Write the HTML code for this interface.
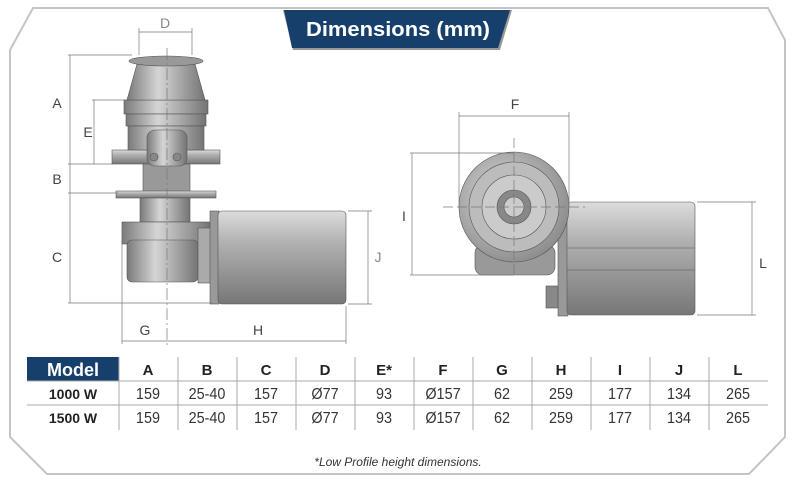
<!DOCTYPE html>
<html><head><meta charset="utf-8"><style>
html,body{margin:0;padding:0;background:#fff;}
svg{display:block;font-family:"Liberation Sans",sans-serif;}
</style></head><body>
<svg width="800" height="494" viewBox="0 0 800 494" xmlns="http://www.w3.org/2000/svg">
<defs>
<linearGradient id="gv" x1="0" y1="0" x2="0" y2="1">
<stop offset="0" stop-color="#dcdcdc"/><stop offset="0.35" stop-color="#b0b0b0"/><stop offset="1" stop-color="#777"/></linearGradient>
<linearGradient id="gh" x1="0" y1="0" x2="1" y2="0">
<stop offset="0" stop-color="#7a7a7a"/><stop offset="0.4" stop-color="#d5d5d5"/><stop offset="1" stop-color="#747474"/></linearGradient>
<radialGradient id="gr" cx="0.4" cy="0.4" r="0.7">
<stop offset="0" stop-color="#d8d8d8"/><stop offset="1" stop-color="#858585"/></radialGradient>
</defs>
<polygon points="33,8 768,8 785,40 785,437 749,474 47,474 10,437 10,50" fill="none" stroke="#c4c4c4" stroke-width="2"/>
<polygon points="283,10 512,10 500,50 293,50" fill="#999"/>
<polygon points="284,10 510,10 498,48 292,48" fill="#173f6b"/>
<text x="398" y="36" fill="#fff" font-size="20" text-anchor="middle" font-weight="bold" textLength="184" lengthAdjust="spacingAndGlyphs">Dimensions (mm)</text>

<g stroke="#555" stroke-width="0.6">
<rect x="112" y="150" width="108" height="14" fill="url(#gv)"/>
<rect x="143" y="164" width="47" height="28" fill="#999"/>
<rect x="116" y="191" width="100" height="7" fill="url(#gv)"/>
<rect x="140" y="198" width="50" height="24" fill="url(#gh)"/>
<rect x="124" y="100" width="84" height="14" fill="url(#gh)"/>
<rect x="126" y="114" width="80" height="12" fill="url(#gh)"/>
<rect x="128" y="126" width="76" height="24" fill="url(#gh)"/>
<rect x="147" y="130" width="40" height="36" rx="8" fill="url(#gh)"/>
<circle cx="154" cy="157" r="4" fill="#888"/><circle cx="177" cy="157" r="4" fill="#888"/>
<path d="M137,64 L195,64 L205,100 L127,100 Z" fill="url(#gh)"/>
<ellipse cx="166" cy="61" rx="37" ry="5" fill="#999"/>
<rect x="122" y="222" width="88" height="22" fill="url(#gh)"/>
<rect x="127" y="240" width="71" height="42" rx="5" fill="url(#gh)"/>
<rect x="198" y="228" width="14" height="55" fill="#aaa"/>
<rect x="210" y="211" width="9" height="93" fill="#999"/>
<rect x="218" y="211" width="128" height="93" rx="4" fill="url(#gv)"/>
</g>
<g stroke="#777" stroke-width="0.7" fill="none">
<line x1="139" y1="32" x2="192" y2="32"/><line x1="139" y1="28" x2="139" y2="55"/><line x1="192" y1="28" x2="192" y2="55"/>
<line x1="167" y1="48" x2="167" y2="346" stroke-dasharray="12,3,2,3"/>
<line x1="70" y1="55" x2="70" y2="303"/><line x1="68" y1="55" x2="132" y2="55"/>
<line x1="94" y1="100" x2="94" y2="164"/><line x1="92" y1="100" x2="126" y2="100"/>
<line x1="68" y1="164" x2="114" y2="164"/><line x1="68" y1="193" x2="118" y2="193"/>
<line x1="68" y1="303" x2="212" y2="303"/>
<line x1="348" y1="211" x2="372" y2="211"/><line x1="348" y1="304" x2="372" y2="304"/><line x1="368" y1="211" x2="368" y2="304"/>
<line x1="122" y1="228" x2="122" y2="344"/><line x1="346" y1="306" x2="346" y2="344"/>
<line x1="122" y1="341" x2="346" y2="341"/>
</g>
<g fill="#444" font-size="14" text-anchor="middle">
<text x="165" y="28" fill="#888">D</text>
<text x="57" y="108">A</text><text x="88" y="137">E</text><text x="57" y="184">B</text>
<text x="57" y="262">C</text><text x="378" y="262" fill="#888">J</text>
<text x="145" y="335">G</text><text x="258" y="335">H</text>
</g>

<g stroke="#555" stroke-width="0.6">
<rect x="475" y="245" width="80" height="30" rx="8" fill="#999"/>
<rect x="558" y="205" width="10" height="111" fill="#999"/>
<rect x="546" y="286" width="12" height="22" fill="#888"/>
<rect x="567" y="202" width="128" height="113" rx="4" fill="url(#gv)"/>
<line x1="567" y1="248" x2="695" y2="248"/><line x1="567" y1="270" x2="695" y2="270"/>
<circle cx="514" cy="207" r="55" fill="url(#gr)"/>
<circle cx="514" cy="207" r="45" fill="#bcbcbc"/>
<circle cx="514" cy="207" r="32" fill="#cbcbcb"/>
<circle cx="514" cy="207" r="17" fill="#888"/>
<circle cx="514" cy="207" r="10" fill="#ccc"/>
</g>
<g stroke="#777" stroke-width="0.7" fill="none">
<line x1="459" y1="116" x2="569" y2="116"/><line x1="459" y1="112" x2="459" y2="207"/><line x1="569" y1="112" x2="569" y2="207"/>
<line x1="443" y1="207" x2="585" y2="207" stroke-dasharray="10,4"/><line x1="514" y1="138" x2="514" y2="275" stroke-dasharray="10,4"/>
<line x1="412" y1="153" x2="412" y2="275"/><line x1="410" y1="153" x2="514" y2="153"/><line x1="410" y1="275" x2="514" y2="275"/>
<line x1="697" y1="202" x2="756" y2="202"/><line x1="697" y1="315" x2="756" y2="315"/><line x1="752" y1="202" x2="752" y2="315"/>
</g>
<g fill="#444" font-size="14" text-anchor="middle">
<text x="515" y="109">F</text><text x="404" y="221">I</text><text x="763" y="268">L</text>
</g>

<rect x="27" y="357" width="92" height="24" fill="#173f6b"/>
<text x="73" y="376" fill="#fff" font-size="18" font-weight="bold" text-anchor="middle">Model</text>
<g stroke="#aaa" stroke-width="1">
<line x1="27" y1="381" x2="768" y2="381"/><line x1="27" y1="405" x2="768" y2="405"/>
<line x1="119" y1="357" x2="119" y2="430"/><line x1="178" y1="357" x2="178" y2="430"/><line x1="237" y1="357" x2="237" y2="430"/>
<line x1="296" y1="357" x2="296" y2="430"/><line x1="355" y1="357" x2="355" y2="430"/><line x1="414" y1="357" x2="414" y2="430"/>
<line x1="473" y1="357" x2="473" y2="430"/><line x1="532" y1="357" x2="532" y2="430"/><line x1="591" y1="357" x2="591" y2="430"/>
<line x1="650" y1="357" x2="650" y2="430"/><line x1="709" y1="357" x2="709" y2="430"/>
</g>
<g font-size="15" font-weight="bold" fill="#222" text-anchor="middle">
<text x="148" y="375">A</text><text x="207" y="375">B</text><text x="266" y="375">C</text><text x="325" y="375">D</text><text x="384" y="375">E*</text><text x="443" y="375">F</text><text x="502" y="375">G</text><text x="561" y="375">H</text><text x="620" y="375">I</text><text x="679" y="375">J</text><text x="738" y="375">L</text>
<text x="73" y="399" font-size="14">1000 W</text><text x="73" y="423" font-size="14">1500 W</text>
</g>
<g font-size="16" fill="#333" text-anchor="middle" transform="scale(0.9,1)">
<text x="164.4" y="399">159</text><text x="230" y="399">25-40</text><text x="295.6" y="399">157</text><text x="361.1" y="399">Ø77</text><text x="426.7" y="399">93</text><text x="492.2" y="399">Ø157</text><text x="557.8" y="399">62</text><text x="623.3" y="399">259</text><text x="688.9" y="399">177</text><text x="754.4" y="399">134</text><text x="820" y="399">265</text>
<text x="164.4" y="423">159</text><text x="230" y="423">25-40</text><text x="295.6" y="423">157</text><text x="361.1" y="423">Ø77</text><text x="426.7" y="423">93</text><text x="492.2" y="423">Ø157</text><text x="557.8" y="423">62</text><text x="623.3" y="423">259</text><text x="688.9" y="423">177</text><text x="754.4" y="423">134</text><text x="820" y="423">265</text>
</g>
<text x="398" y="466" font-size="12" font-style="italic" fill="#333" text-anchor="middle">*Low Profile height dimensions.</text>
</svg>
</body></html>
